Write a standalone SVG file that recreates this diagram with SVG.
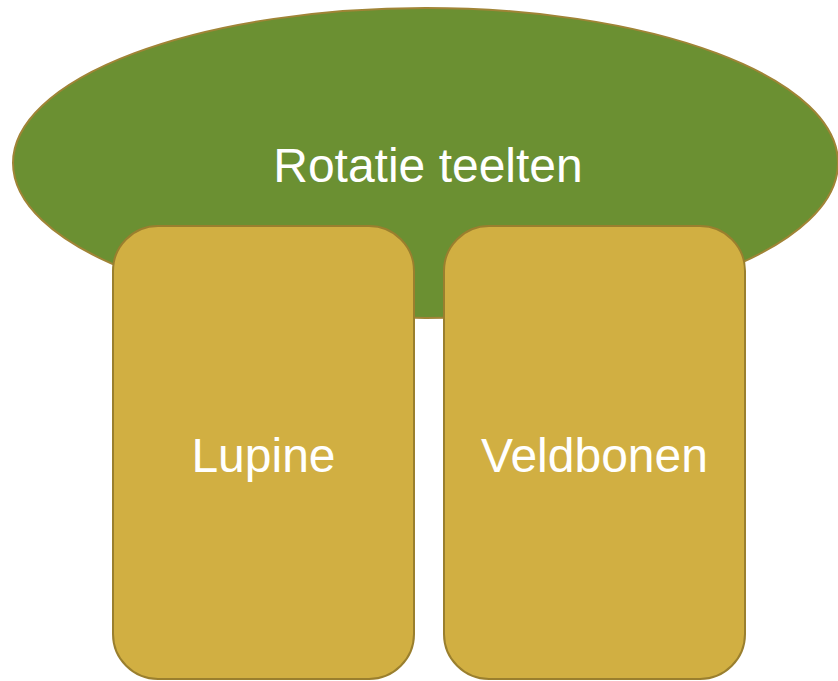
<svg xmlns="http://www.w3.org/2000/svg" width="838" height="681" viewBox="0 0 838 681">
<style>
.box{fill:#d1af42;stroke:#9a7f2e;stroke-width:2}
.lbl{font-family:"Liberation Sans",Arial,sans-serif;font-size:48px;fill:#ffffff;text-anchor:middle}
</style>
<rect width="838" height="681" fill="#ffffff"/>
<g id="rotatie">
<ellipse cx="425.5" cy="163" rx="412.5" ry="155" fill="#6b9032" stroke="#a08436" stroke-width="2"/>
<text class="lbl" x="428" y="182">Rotatie teelten</text>
</g>
<g id="connectors"></g>
<g id="lupine">
<rect class="box" x="113" y="226" width="301" height="453" rx="45" ry="45"/>
<text class="lbl" x="263.5" y="472">Lupine</text>
</g>
<g id="veldbonen">
<rect class="box" x="444" y="226" width="301" height="453" rx="45" ry="45"/>
<text class="lbl" x="594.5" y="472">Veldbonen</text>
</g>
</svg>
